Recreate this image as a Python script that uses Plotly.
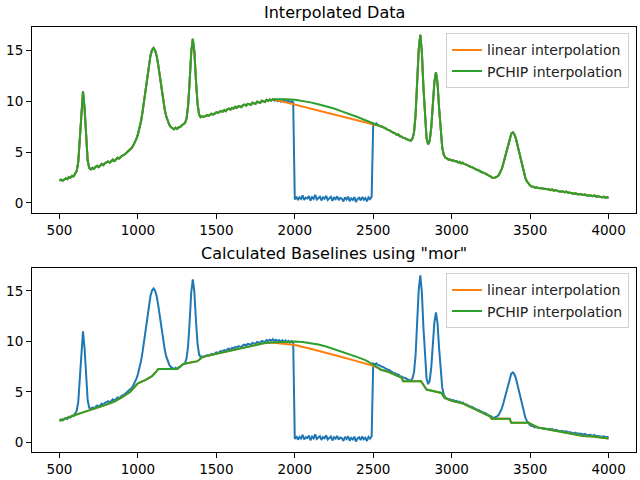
import plotly.graph_objects as go

# ---------------- data ----------------
x_start, x_stop, x_step = 500, 4000, 10
wavenumber = list(range(x_start, x_stop + 1, x_step))

signal = [
    2.20, 2.29, 2.18, 2.35, 2.42, 2.33, 2.55, 2.48, 2.66, 2.62,      # 500
    2.85, 3.15, 4.05, 6.30, 9.40, 11.00, 9.35, 6.25, 4.15, 3.45,     # 600
    3.30, 3.46, 3.36, 3.55, 3.66, 3.52, 3.74, 3.84, 3.72, 3.92,      # 700
    3.99, 4.08, 3.96, 4.16, 4.26, 4.12, 4.33, 4.45, 4.38, 4.55,      # 800
    4.66, 4.70, 4.84, 4.92, 5.08, 5.18, 5.40, 5.65, 5.95, 6.30,      # 900
    6.75, 7.30, 8.05, 9.00, 10.10, 11.30, 12.50, 13.60, 14.50, 15.05,  # 1000
    15.25, 15.00, 14.45, 13.55, 12.45, 11.30, 10.20, 9.30, 8.55, 8.00,  # 1100
    7.70, 7.48, 7.32, 7.25, 7.40, 7.28, 7.45, 7.48, 7.65, 7.72,      # 1200
    7.85, 8.30, 9.55, 12.00, 14.85, 16.15, 14.90, 12.10, 9.80, 8.70,  # 1300
    8.45, 8.52, 8.46, 8.55, 8.64, 8.58, 8.68, 8.78, 8.70, 8.80,      # 1400
    8.92, 8.86, 8.96, 9.06, 8.98, 9.14, 9.04, 9.22, 9.28, 9.18,      # 1500
    9.36, 9.30, 9.46, 9.36, 9.54, 9.48, 9.44, 9.64, 9.68, 9.58,      # 1600
    9.76, 9.72, 9.66, 9.86, 9.82, 9.76, 9.96, 9.92, 9.86, 10.06,     # 1700
    10.02, 9.94, 10.14, 10.04, 10.18, 10.08, 10.22, 10.06, 10.16, 10.02,  # 1800
    10.14, 9.98, 10.12, 9.94, 10.10, 9.92, 10.06, 9.88, 10.04, 9.92,  # 1900
    0.35, 0.62, 0.28, 0.55, 0.40, 0.75, 0.30, 0.52, 0.45, 0.68,      # 2000
    0.22, 0.58, 0.40, 0.80, 0.35, 0.50, 0.62, 0.25, 0.55, 0.42,      # 2100
    0.70, 0.30, 0.48, 0.60, 0.20, 0.52, 0.38, 0.65, 0.28, 0.50,      # 2200
    0.42, 0.15, 0.55, 0.35, 0.62, 0.18, 0.45, 0.30, 0.58, 0.10,      # 2300
    0.40, 0.52, 0.25, 0.60, 0.32, 0.48, 0.15, 0.55, 0.38, 0.62,      # 2400
    7.80, 7.72, 7.84, 7.66, 7.64, 7.52, 7.50, 7.38, 7.34, 7.22,      # 2500
    7.18, 7.06, 7.00, 6.88, 6.86, 6.70, 6.74, 6.56, 6.54, 6.42,      # 2600
    6.40, 6.28, 6.24, 6.16, 6.14, 6.33, 6.94, 8.65, 11.70, 15.10,    # 2700
    16.55, 14.90, 11.40, 8.16, 6.35, 5.77, 6.12, 7.43, 9.65, 11.93,  # 2800
    12.88, 11.76, 9.32, 6.94, 5.43, 4.73, 4.45, 4.38, 4.26, 4.28,    # 2900
    4.18, 4.20, 4.10, 4.12, 4.00, 4.04, 3.90, 3.96, 3.82, 3.80,      # 3000
    3.70, 3.68, 3.56, 3.52, 3.42, 3.38, 3.26, 3.22, 3.12, 3.08,      # 3100
    2.98, 2.94, 2.82, 2.78, 2.66, 2.60, 2.48, 2.46, 2.50, 2.59,      # 3200
    2.74, 3.01, 3.38, 3.90, 4.51, 5.21, 5.88, 6.46, 6.82, 6.94,      # 3300
    6.75, 6.32, 5.67, 4.93, 4.16, 3.48, 2.89, 2.45, 2.11, 1.89,      # 3400
    1.72, 1.62, 1.60, 1.50, 1.56, 1.46, 1.48, 1.44, 1.42, 1.38,      # 3500
    1.40, 1.34, 1.35, 1.27, 1.34, 1.22, 1.25, 1.24, 1.15, 1.18,      # 3600
    1.14, 1.12, 1.05, 1.13, 1.00, 1.03, 1.01, 0.96, 0.90, 0.97,      # 3700
    0.86, 0.89, 0.88, 0.84, 0.78, 0.85, 0.73, 0.77, 0.76, 0.71,      # 3800
    0.66, 0.74, 0.62, 0.65, 0.64, 0.60, 0.54, 0.62, 0.50, 0.57,      # 3900
    0.50,                                                            # 4000
]
assert len(signal) == len(wavenumber)

# region replaced by interpolation
gap_lo, gap_hi = 1860, 2550

# PCHIP-interpolated values inside the gap
pchip_x = [1880, 1900, 1950, 2000, 2050, 2100, 2150, 2200, 2250, 2300, 2350, 2400, 2450, 2500]
pchip_y = [10.22, 10.24, 10.22, 10.16, 10.05, 9.90, 9.72, 9.52, 9.30, 9.02, 8.76, 8.46, 8.14, 7.84]

# "mor" baselines (bottom panel)
base_pre_x = [500, 550, 600, 650, 700, 750, 800, 850, 900, 950, 980, 1000, 1050, 1090,
              1110, 1130, 1250, 1270, 1290, 1380, 1410, 1450, 1500, 1600, 1700, 1800, 1850]
base_pre_y = [2.15, 2.40, 2.72, 2.98, 3.22, 3.48, 3.75, 4.05, 4.48, 5.00, 5.55, 5.85, 6.20, 6.56,
              6.90, 7.28, 7.28, 7.50, 7.78, 8.05, 8.45, 8.60, 8.78, 9.15, 9.52, 9.82, 9.90]
base_lin_x = [1900, 1950, 2000, 2100, 2200, 2300, 2400, 2500]
base_lin_y = [9.80, 9.73, 9.65, 9.27, 8.90, 8.47, 8.03, 7.60]
base_pchip_x = [1900, 1950, 2000, 2050, 2100, 2150, 2200, 2250, 2300, 2350, 2400, 2450, 2500]
base_pchip_y = [9.95, 10.00, 10.00, 9.95, 9.85, 9.70, 9.50, 9.25, 8.97, 8.68, 8.45, 8.15, 7.72]
base_post_x = [2550, 2600, 2650, 2683, 2690, 2805, 2840, 2935, 2955, 3000, 3073, 3150, 3244,
               3255, 3370, 3380, 3490, 3550, 3600, 3650, 3700, 3750, 3800, 3840, 3900, 3950, 4000]
base_post_y = [7.20, 6.98, 6.62, 6.39, 6.06, 6.06, 5.24, 4.90, 4.42, 4.12, 3.85, 3.28, 2.60,
               2.34, 2.34, 1.95, 1.95, 1.48, 1.33, 1.20, 1.05, 0.90, 0.80, 0.65, 0.60, 0.50, 0.40]

titles = ["Interpolated Data", 'Calculated Baselines using "mor"']
labels = ["linear interpolation", "PCHIP interpolation"]
x_ticks = [500, 1000, 1500, 2000, 2500, 3000, 3500, 4000]
y_ticks = [0, 5, 10, 15]

# ---------------- build series ----------------
pre = [(a, b) for a, b in zip(wavenumber, signal) if a <= gap_lo]
post = [(a, b) for a, b in zip(wavenumber, signal) if a >= gap_hi]
lin_x = [p[0] for p in pre] + [p[0] for p in post]
lin_y = [p[1] for p in pre] + [p[1] for p in post]
pch_x = [p[0] for p in pre] + pchip_x + [p[0] for p in post]
pch_y = [p[1] for p in pre] + pchip_y + [p[1] for p in post]

bl_x = base_pre_x + base_lin_x + base_post_x
bl_y = base_pre_y + base_lin_y + base_post_y
bp_x = base_pre_x + base_pchip_x + base_post_x
bp_y = base_pre_y + base_pchip_y + base_post_y

BLUE, ORANGE, GREEN = "#1f77b4", "#ff7f0e", "#2ca02c"
LW = 2

fig = go.Figure()
# top panel
fig.add_trace(go.Scatter(x=wavenumber, y=signal, mode="lines", line=dict(color=BLUE, width=LW),
                         showlegend=False, xaxis="x", yaxis="y"))
fig.add_trace(go.Scatter(x=lin_x, y=lin_y, mode="lines", line=dict(color=ORANGE, width=LW),
                         name=labels[0], legend="legend", xaxis="x", yaxis="y"))
fig.add_trace(go.Scatter(x=pch_x, y=pch_y, mode="lines", line=dict(color=GREEN, width=LW),
                         name=labels[1], legend="legend", xaxis="x", yaxis="y"))
# bottom panel
fig.add_trace(go.Scatter(x=wavenumber, y=signal, mode="lines", line=dict(color=BLUE, width=LW),
                         showlegend=False, xaxis="x2", yaxis="y2"))
fig.add_trace(go.Scatter(x=bl_x, y=bl_y, mode="lines", line=dict(color=ORANGE, width=LW),
                         name=labels[0], legend="legend2", xaxis="x2", yaxis="y2"))
fig.add_trace(go.Scatter(x=bp_x, y=bp_y, mode="lines", line=dict(color=GREEN, width=LW),
                         name=labels[1], legend="legend2", xaxis="x2", yaxis="y2"))

FONT = "DejaVu Sans"
axis_common = dict(showline=True, mirror=True, linecolor="black", linewidth=1,
                   ticks="outside", ticklen=5, tickwidth=1, tickcolor="black",
                   showgrid=False, zeroline=False, automargin=False,
                   tickfont=dict(family=FONT, size=13.5, color="black"))

Y_RANGE = [-0.94, 17.32]
X_RANGE = [325, 4175]
top_dom = [0.5635, 1.0]
bot_dom = [0.0, 0.4341]

legend_common = dict(font=dict(family=FONT, size=14, color="#222"),
                     bgcolor="rgba(255,255,255,0.8)", bordercolor="#d0d0d0", borderwidth=1,
                     xanchor="right", yanchor="top", tracegroupgap=0, itemwidth=30)

fig.update_layout(
    width=640, height=480,
    margin=dict(l=32, r=4, t=27, b=28, autoexpand=False),
    paper_bgcolor="white", plot_bgcolor="white",
    font=dict(family=FONT, color="black"),
    xaxis=dict(domain=[0, 1], anchor="y", range=X_RANGE, tickvals=x_ticks, **axis_common),
    yaxis=dict(domain=top_dom, anchor="x", range=Y_RANGE, tickvals=y_ticks, **axis_common),
    xaxis2=dict(domain=[0, 1], anchor="y2", range=X_RANGE, tickvals=x_ticks, **axis_common),
    yaxis2=dict(domain=bot_dom, anchor="x2", range=Y_RANGE, tickvals=y_ticks, **axis_common),
    legend=dict(x=0.9884, y=0.9852, **legend_common),
    legend2=dict(x=0.9884, y=0.4205, **legend_common),
    annotations=[
        dict(text=titles[0], xref="paper", yref="paper", x=0.5, y=1.033, xanchor="center",
             yanchor="middle", showarrow=False, font=dict(family=FONT, size=16, color="black")),
        dict(text=titles[1], xref="paper", yref="paper", x=0.5, y=0.468, xanchor="center",
             yanchor="middle", showarrow=False, font=dict(family=FONT, size=16, color="black")),
    ],
)

fig.write_html("out.html")
